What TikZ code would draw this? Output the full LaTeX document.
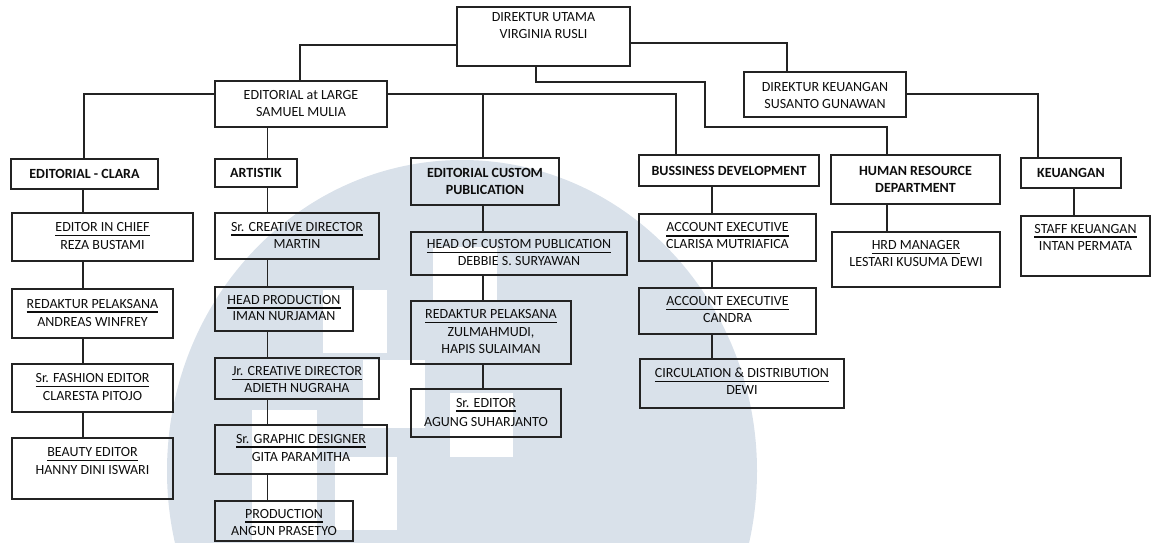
\documentclass[tikz,border=0pt]{standalone}
\usepackage{fontspec}
\setmainfont{Carlito}
\definecolor{wm}{RGB}{217,225,234}
\definecolor{ln}{RGB}{35,35,35}
\newcommand\ulx[1]{\setbox0\hbox{#1}\rlap{\rule[-4.6pt]{\wd0}{1.2pt}}\box0}
\newcommand\bx[7]{%
  \node[box, minimum width={#4-#2}, minimum height={#5-#3}] (#1) at ({(#2+#4)/2},{(#3+#5)/2}) {};
  \node[txt] (#1-t) at ([yshift=#6]#1.center) {#7};}
\tikzset{
  box/.style={draw=ln, line width=1.4pt, inner sep=0pt, outer sep=0pt},
  txt/.style={align=center, inner sep=0pt, text=black!95, font=\fontsize{14}{17}\selectfont},
  conn/.style={draw=ln, line width=1.3pt}
}
\begin{document}
\begin{tikzpicture}[x=1pt,y=-1pt]
\useasboundingbox (0,0) rectangle (1157,542);
% watermark
\begin{scope}
\clip (0,0) rectangle (1157,542);
\fill[wm] (462,471) ellipse [x radius=295pt, y radius=311pt];
\fill[white] (323,290) rectangle (387,353);
\fill[white] (363,360) rectangle (425,428);
\fill[white] (252,410) rectangle (317,542);
\fill[white] (335,457) rectangle (397,530);
\fill[white] (433,247) rectangle (497,302);
\fill[white] (450,393) rectangle (513,457);
\end{scope}
% top
\bx{DU}{457}{7}{630}{66}{10.5pt}{DIREKTUR UTAMA\\VIRGINIA RUSLI}
\bx{EaL}{215}{81}{387}{127}{0.5pt}{EDITORIAL at LARGE\\SAMUEL MULIA}
\bx{DK}{744}{72}{906}{117}{-1pt}{DIREKTUR KEUANGAN\\SUSANTO GUNAWAN}
% departments
\bx{EC}{11}{159}{158}{189}{0pt}{\bfseries EDITORIAL - CLARA}
\bx{ART}{215}{159}{297}{187}{0pt}{\bfseries ARTISTIK}
\bx{ECP}{411}{158}{559}{205}{0pt}{\bfseries EDITORIAL CUSTOM\\\bfseries PUBLICATION}
\bx{BD}{639}{155}{819}{186}{0pt}{\bfseries BUSSINESS DEVELOPMENT}
\bx{HRD}{831}{155}{1000}{204}{0pt}{\bfseries HUMAN RESOURCE\\\bfseries DEPARTMENT}
\bx{KEU}{1021}{158}{1121}{188}{0pt}{\bfseries KEUANGAN}
% editorial column
\bx{EIC}{12}{213}{193}{261}{1pt}{\ulx{EDITOR IN CHIEF}\\[1pt]REZA BUSTAMI}
\bx{RP}{12}{289}{173}{338}{1pt}{\ulx{REDAKTUR PELAKSANA}\\[1pt]ANDREAS WINFREY}
\bx{SFE}{12}{364}{173}{412}{1pt}{\ulx{Sr. FASHION EDITOR}\\[1pt]CLARESTA PITOJO}
\bx{BE}{12}{438}{173}{499}{7.5pt}{\ulx{BEAUTY EDITOR}\\[1pt]HANNY DINI ISWARI}
% artistik column
\bx{SCD}{215}{213}{379}{259}{1pt}{\ulx{Sr. CREATIVE DIRECTOR}\\MARTIN}
\bx{HP}{215}{287}{353}{331}{1pt}{\ulx{HEAD PRODUCTION}\\IMAN NURJAMAN}
\bx{JCD}{215}{358}{379}{399}{-1pt}{\ulx{Jr. CREATIVE DIRECTOR}\\ADIETH NUGRAHA}
\bx{SGD}{215}{425}{387}{474}{2pt}{\ulx{Sr. GRAPHIC DESIGNER}\\[1pt]GITA PARAMITHA}
\bx{PROD}{215}{501}{353}{541}{-1pt}{\ulx{PRODUCTION}\\ANGUN PRASETYO}
% custom publication column
\bx{HOCP}{411}{232}{627}{275}{1pt}{\ulx{HEAD OF CUSTOM PUBLICATION}\\DEBBIE S. SURYAWAN}
\bx{RP2}{411}{301}{571}{364}{1pt}{\ulx{REDAKTUR PELAKSANA}\\[1pt]ZULMAHMUDI,\\HAPIS SULAIMAN}
\bx{SE}{411}{389}{561}{437}{1pt}{\ulx{Sr. EDITOR}\\[2pt]AGUNG SUHARJANTO}
% business column
\bx{AE1}{639}{214}{816}{261}{1.5pt}{\ulx{ACCOUNT EXECUTIVE}\\CLARISA MUTRIAFICA}
\bx{AE2}{639}{288}{816}{334}{1.5pt}{\ulx{ACCOUNT EXECUTIVE}\\CANDRA}
\bx{CD}{640}{359}{844}{408}{2pt}{\ulx{CIRCULATION \& DISTRIBUTION}\\DEWI}
% hrd / keuangan
\bx{HRDM}{832}{232}{1000}{287}{6pt}{\ulx{HRD MANAGER}\\LESTARI KUSUMA DEWI}
\bx{SK}{1021}{216}{1150}{276}{9pt}{\ulx{STAFF KEUANGAN}\\INTAN PERMATA}
% connectors
\coordinate (k1) at (300,45);
\draw[conn] (DU.west |- k1) -| (EaL.north -| k1);
\coordinate (k2) at (787,43);
\draw[conn] (DU.east |- k2) -| (DK.north -| k2);
\coordinate (k3) at (536,82);
\coordinate (k4) at (705,127);
\coordinate (k5) at (887,0);
\draw[conn] (DU.south -| k3) -- (k3) -| (k4) -| (HRD.north -| k5);
\coordinate (k6) at (84,94);
\draw[conn] (EaL.west |- k6) -| (EC.north -| k6);
\coordinate (k7) at (267.5,0);
\draw[conn] (EaL.south -| k7) -- (ART.north -| k7);
\coordinate (k8) at (676,94);
\draw[conn] (EaL.east |- k8) -| (BD.north -| k8);
\coordinate (k9) at (483,94);
\draw[conn] (k9) -- (ECP.north -| k9);
\coordinate (k10) at (1038,94);
\draw[conn] (DK.east |- k10) -| (KEU.north -| k10);
% columns
\coordinate (cA) at (83,0);
\foreach \a/\b in {EC/EIC,EIC/RP,RP/SFE,SFE/BE} \draw[conn] (\a.south -| cA) -- (\b.north -| cA);
\foreach \a/\b in {ART/SCD,SCD/HP,HP/JCD,JCD/SGD,SGD/PROD} \draw[conn] (\a.south -| k7) -- (\b.north -| k7);
\foreach \a/\b in {ECP/HOCP,HOCP/RP2,RP2/SE} \draw[conn] (\a.south -| k9) -- (\b.north -| k9);
\coordinate (cD) at (712,0);
\foreach \a/\b in {BD/AE1,AE1/AE2,AE2/CD} \draw[conn] (\a.south -| cD) -- (\b.north -| cD);
\draw[conn] (HRD.south -| k5) -- (HRDM.north -| k5);
\coordinate (cF) at (1074,0);
\draw[conn] (KEU.south -| cF) -- (SK.north -| cF);
\end{tikzpicture}
\end{document}
